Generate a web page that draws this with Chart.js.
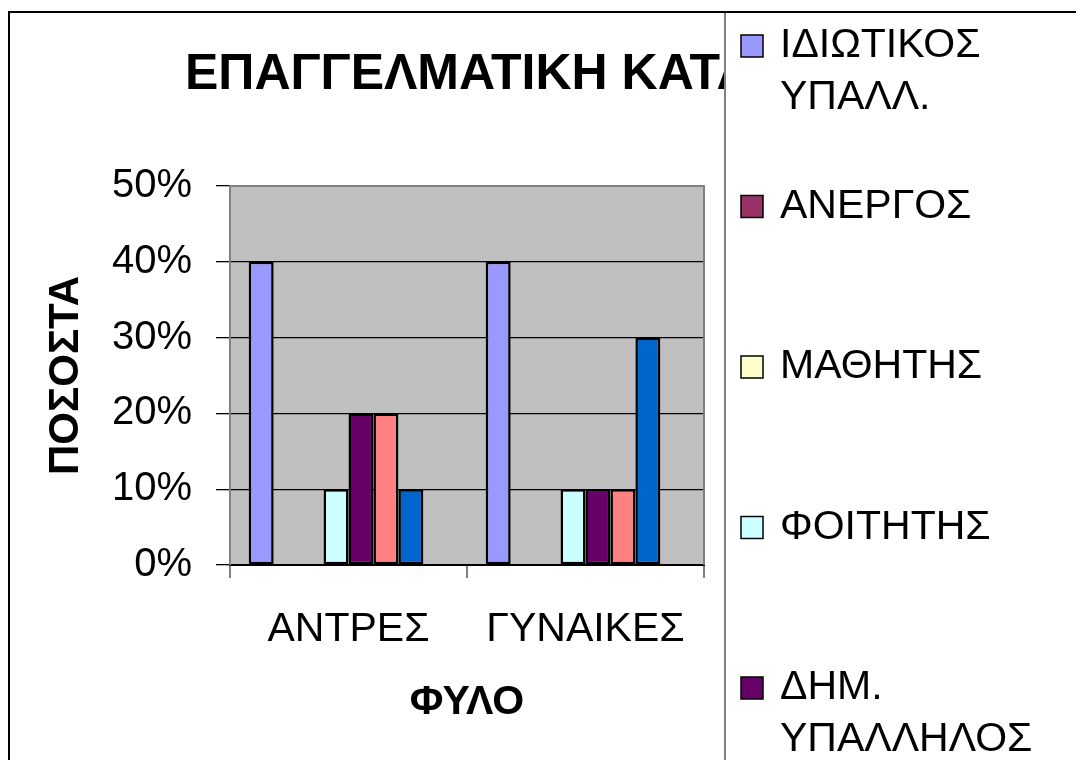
<!DOCTYPE html>
<html>
<head>
<meta charset="utf-8">
<script src="https://cdn.jsdelivr.net/npm/chart.js@4"></script>
<style>
  body { margin: 0; background: #fff; }
  #wrap { width: 1076px; height: 760px; }
</style>
</head>
<body>
<div id="wrap"><canvas id="myChart" width="1076" height="760"></canvas></div>
<script>
// categories and series (percent values)
let categories = ['ΑΝΤΡΕΣ', 'ΓΥΝΑΙΚΕΣ'];
let seriesNames = [
    ['ΙΔΙΩΤΙΚΟΣ', 'ΥΠΑΛΛ.'],
    ['ΑΝΕΡΓΟΣ'],
    ['ΜΑΘΗΤΗΣ'],
    ['ΦΟΙΤΗΤΗΣ'],
    ['ΔΗΜ.', 'ΥΠΑΛΛΗΛΟΣ'],
    ['ΕΛ. ΕΠΑΓΓΕΛΜΑΤΙΑΣ'],
    ['ΣΥΝΤΑΞΙΟΥΧΟΣ'],
    ['ΟΙΚΙΑΚΑ']
];
let idiotikos = [40, 40];
let anergos = [0, 0];
let mathitis = [0, 0];
let foititis = [10, 10];
let dimosios = [20, 10];
let eleftheros = [20, 10];
let syntaxiouxos = [10, 30];
let oikiaka = [0, 0];
let yTicks = [0, 10, 20, 30, 40, 50];

let seriesValues = [idiotikos, anergos, mathitis, foititis, dimosios, eleftheros, syntaxiouxos, oikiaka];
let colors = ['#9999FF', '#993366', '#FFFFCC', '#CCFFFF', '#660066', '#FF8080', '#0066CC', '#CCCCFF'];

const FONT = '"Liberation Sans", Arial, sans-serif';

// gray plot background, frame, title and the (cut off) legend box
let excelLook = {
    id: 'excelLook',
    beforeDraw(chart) {
        let c = chart.ctx, a = chart.chartArea;
        c.save();
        c.fillStyle = '#C0C0C0';
        c.fillRect(a.left, a.top, a.right - a.left, a.bottom - a.top);
        c.restore();
    },
    afterDraw(chart) {
        let c = chart.ctx, a = chart.chartArea;
        c.save();
        // plot frame top / right
        c.strokeStyle = '#808080';
        c.lineWidth = 2;
        c.beginPath();
        c.moveTo(a.left, a.top);
        c.lineTo(a.right, a.top);
        c.lineTo(a.right, a.bottom);
        c.stroke();

        // chart title
        c.fillStyle = '#000';
        c.font = 'bold 50px ' + FONT;
        c.textAlign = 'left';
        c.textBaseline = 'alphabetic';
        c.fillText('ΕΠΑΓΓΕΛΜΑΤΙΚΗ ΚΑΤΑΣΤΑΣΗ', 185, 89);

        // legend box over the title
        c.fillStyle = '#fff';
        c.fillRect(725, 12, 1076 - 725, 760 - 12);
        c.strokeStyle = '#808080';
        c.lineWidth = 2;
        c.beginPath();
        c.moveTo(725, 12);
        c.lineTo(725, 760);
        c.stroke();

        c.font = '41px ' + FONT;
        c.textBaseline = 'middle';
        seriesNames.forEach((lines, i) => {
            let y = 46 + 160.5 * i;
            c.fillStyle = colors[i];
            c.fillRect(741, y - 11, 22, 22);
            c.strokeStyle = '#000';
            c.lineWidth = 1.5;
            c.strokeRect(741, y - 11, 22, 22);
            c.fillStyle = '#000';
            lines.forEach((t, j) => c.fillText(t, 780, y + 52 * j));
        });

        // outer chart frame
        c.strokeStyle = '#000';
        c.lineWidth = 2;
        c.beginPath();
        c.moveTo(9, 760);
        c.lineTo(9, 12);
        c.lineTo(1076, 12);
        c.stroke();
        c.restore();
    }
};

let ctx = document.getElementById('myChart').getContext('2d');
let chart = new Chart(ctx, {
    type: 'bar',
    data: {
        labels: categories,
        datasets: seriesValues.map((vals, i) => ({
            label: seriesNames[i].join(' '),
            data: vals,
            backgroundColor: colors[i],
            borderColor: '#000',
            borderWidth: 2.5,
            borderSkipped: false
        }))
    },
    options: {
        responsive: false,
        animation: false,
        layout: { padding: { left: 10, top: 186, right: 372, bottom: 0 } },
        datasets: { bar: { categoryPercentage: 8 / 9.5, barPercentage: 1 } },
        plugins: {
            legend: { display: false },
            title: { display: false },
            tooltip: { enabled: false }
        },
        scales: {
            x: {
                grid: { drawOnChartArea: false, color: '#808080', lineWidth: 2, tickLength: 13 },
                border: { color: '#000', width: 2 },
                ticks: { color: '#000', font: { family: FONT, size: 41 }, padding: 27, maxRotation: 0 },
                title: { display: true, text: 'ΦΥΛΟ', color: '#000', font: { family: FONT, size: 41, weight: 'bold' }, padding: { top: 0, bottom: 33 } },
                afterFit(scale) { scale.height = 195; }
            },
            y: {
                min: 0,
                max: 50,
                afterBuildTicks(scale) { scale.ticks = yTicks.map(v => ({ value: v })); },
                grid: { color: '#000', lineWidth: 1.3, tickLength: 14 },
                border: { color: '#808080', width: 2 },
                ticks: { color: '#000', font: { family: FONT, size: 40 }, padding: 24, callback: v => v + '%' },
                title: { display: true, text: 'ΠΟΣΟΣΤΑ', color: '#000', font: { family: FONT, size: 42, weight: 'bold' }, padding: { top: 31, bottom: 0 } },
                afterFit(scale) { scale.width = 220; }
            }
        }
    },
    plugins: [excelLook]
});
</script>
</body>
</html>
